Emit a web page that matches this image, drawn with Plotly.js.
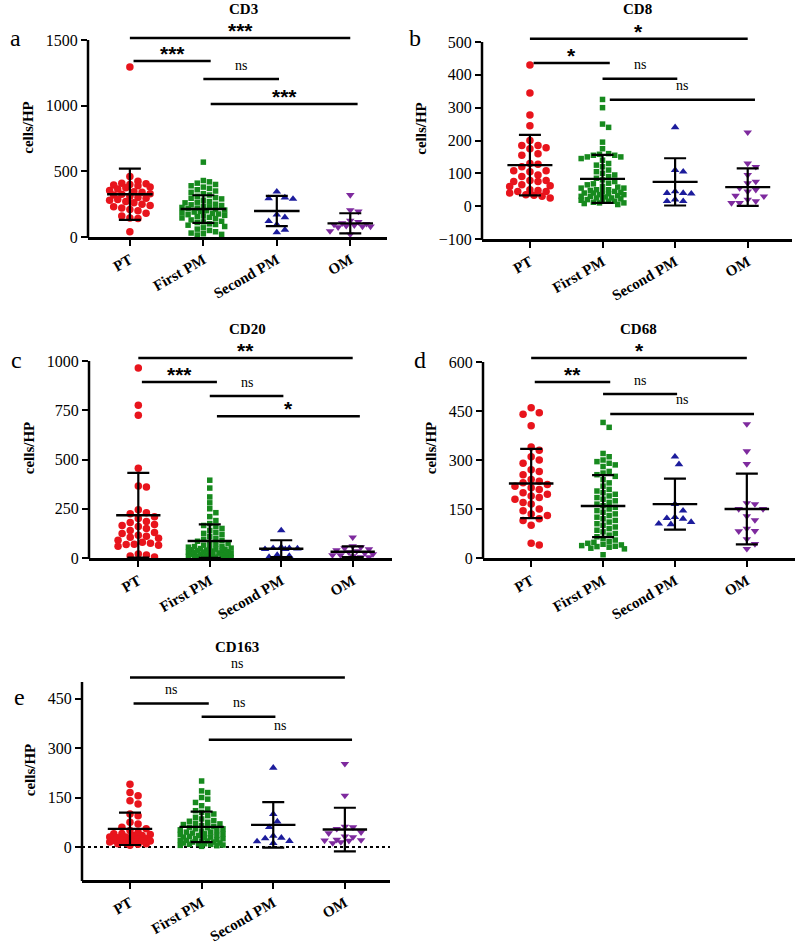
<!DOCTYPE html>
<html><head><meta charset="utf-8">
<script src="https://cdn.plot.ly/plotly-3.0.1.min.js"></script>
<style>html,body{margin:0;padding:0;background:#fff}</style>
</head><body><div id="chart" style="width:800px;height:949px"></div>
<script>
// ---------- categories ----------
const groups = ['PT', 'First PM', 'Second PM', 'OM'];

// ---------- CD3 ----------
const cd3PT = [1295, 460, 425, 410, 405, 400, 395, 390, 380, 375, 365, 355, 345, 340, 330, 325, 320, 310, 300, 295, 285, 280, 270, 260, 250, 240, 230, 220, 210, 200, 180, 160, 145, 140, 40];
const cd3First = [570, 430, 420, 410, 400, 390, 380, 370, 360, 350, 340, 330, 320, 310, 300, 295, 290, 280, 270, 265, 260, 250, 245, 240, 235, 230, 225, 220, 215, 210, 205, 200, 195, 190, 185, 180, 175, 170, 165, 160, 155, 150, 145, 140, 130, 120, 115, 110, 100, 95, 90, 80, 70, 60, 50, 40, 30, 25, 20, 15];
const cd3Second = [345, 300, 295, 290, 170, 150, 120, 95, 55, 35];
const cd3OM = [320, 205, 195, 125, 115, 105, 100, 95, 90, 85, 80, 80, 75, 45, 20];
const cd3Mean = [325, 213, 198, 104];
const cd3SD = [195, 105, 115, 77];
const cd3SigY = [1515, 1340, 1203, 1013];
const cd3SigLabel = ['***', '***', 'ns', '***'];

// ---------- CD8 ----------
const cd8PT = [430, 345, 278, 245, 200, 185, 185, 178, 175, 160, 155, 130, 128, 120, 108, 108, 105, 95, 90, 78, 78, 75, 75, 65, 62, 60, 50, 48, 45, 45, 40, 35, 33, 30, 25];
const cd8First = [325, 300, 250, 240, 195, 175, 160, 158, 155, 155, 150, 150, 145, 140, 130, 125, 120, 110, 105, 100, 95, 90, 85, 80, 75, 70, 68, 65, 60, 58, 55, 55, 50, 50, 48, 45, 45, 42, 40, 40, 38, 35, 35, 32, 30, 30, 28, 25, 25, 22, 20, 20, 18, 15, 15, 12, 10, 10, 8, 5];
const cd8Second = [240, 110, 105, 45, 40, 40, 38, 20, 15, 15];
const cd8OM = [225, 130, 120, 95, 75, 70, 55, 50, 45, 32, 30, 20, 15, 10, 10];
const cd8Mean = [125, 83, 74, 58];
const cd8SD = [92, 73, 72, 57];
const cd8SigY = [510, 436, 388, 324];
const cd8SigLabel = ['*', '*', 'ns', 'ns'];

// ---------- CD20 ----------
const cd20PT = [965, 775, 725, 455, 365, 360, 245, 230, 225, 210, 200, 185, 180, 170, 165, 160, 150, 140, 130, 125, 115, 110, 105, 100, 90, 80, 75, 70, 68, 65, 60, 20, 15, 10, 5];
const cd20First = [395, 355, 310, 280, 250, 230, 210, 190, 175, 165, 160, 150, 140, 130, 125, 120, 110, 100, 95, 90, 85, 80, 75, 70, 65, 60, 58, 55, 52, 50, 48, 45, 45, 42, 40, 38, 35, 35, 32, 30, 30, 28, 25, 25, 22, 20, 20, 18, 15, 15, 12, 10, 10, 8, 8, 5, 5, 3, 2, 1];
const cd20Second = [140, 55, 50, 50, 48, 45, 45, 15, 10, 5];
const cd20OM = [105, 60, 55, 50, 45, 40, 35, 30, 25, 20, 15, 15, 10, 5, 5];
const cd20Mean = [217, 86, 47, 32];
const cd20SD = [215, 85, 43, 27];
const cd20SigY = [1015, 893, 822, 720];
const cd20SigLabel = ['**', '***', 'ns', '*'];

// ---------- CD68 ----------
const cd68PT = [460, 445, 440, 405, 340, 330, 310, 300, 290, 270, 265, 255, 240, 235, 230, 225, 220, 215, 210, 200, 195, 190, 185, 180, 170, 165, 150, 145, 135, 130, 120, 115, 100, 45, 40];
const cd68First = [415, 400, 320, 310, 300, 295, 290, 285, 280, 265, 260, 255, 250, 240, 230, 220, 210, 205, 200, 195, 190, 185, 180, 175, 170, 165, 160, 155, 150, 145, 140, 135, 130, 125, 120, 115, 110, 105, 100, 95, 90, 85, 80, 75, 70, 65, 60, 55, 50, 48, 45, 42, 40, 38, 36, 35, 33, 30, 28, 10];
const cd68Second = [310, 287, 165, 145, 125, 122, 120, 110, 105, 103];
const cd68OM = [410, 327, 288, 168, 165, 150, 150, 128, 116, 90, 83, 82, 58, 43, 28];
const cd68Mean = [228, 159, 165, 150];
const cd68SD = [106, 95, 78, 108];
const cd68SigY = [612, 539, 502, 441];
const cd68SigLabel = ['*', '**', 'ns', 'ns'];

// ---------- CD163 ----------
const cd163PT = [190, 165, 155, 140, 130, 100, 95, 75, 70, 60, 55, 50, 45, 40, 40, 38, 35, 35, 30, 30, 28, 25, 25, 22, 20, 20, 18, 18, 15, 15, 12, 10, 10, 8, 5];
const cd163First = [200, 170, 165, 150, 145, 135, 125, 115, 110, 105, 100, 95, 90, 85, 80, 78, 75, 72, 70, 68, 65, 62, 60, 58, 55, 55, 52, 50, 48, 45, 45, 42, 40, 40, 38, 35, 35, 32, 30, 30, 28, 25, 25, 22, 20, 20, 18, 18, 15, 15, 12, 12, 10, 10, 8, 8, 6, 5, 4, 2];
const cd163Second = [240, 100, 77, 60, 34, 28, 26, 18, 17, 12];
const cd163OM = [252, 156, 62, 60, 55, 45, 42, 32, 30, 22, 21, 20, 19, 15, 12];
const cd163Mean = [55, 61, 67, 53];
const cd163SD = [49, 46, 69, 66];
const cd163SigY = [514, 435, 395, 325];
const cd163SigLabel = ['ns', 'ns', 'ns', 'ns'];

// comparison pairs (group indices)
const sigStart = [0, 0, 1, 1];
const sigEnd = [3, 1, 2, 3];

// ---------- styling / geometry ----------
const W = 800, H = 949;
const SERIF = 'Liberation Serif, Times New Roman, DejaVu Serif, serif';
const colors = ['#e8141c', '#178a1e', '#1c1c9c', '#7e2a9e'];
const symbols = ['circle', 'square', 'triangle-up', 'triangle-down'];
const sizes = [7.5, 5.5, 7.5, 7.5];
const sigStartOff = [0.0, 0.05, 0.0, 0.1];
const sigEndOff = [0.0, 0.1, 0.03, 0.1];
const MAXHALF = 24; // max half-width of a swarm, px

const panels = [
  {title: 'CD3', letter: 'a', data: [cd3PT, cd3First, cd3Second, cd3OM], mean: cd3Mean, sd: cd3SD, sigY: cd3SigY, sigLabel: cd3SigLabel,
   xL: 88, xR: 387, xr: [-0.57, 3.5], yMin: 0, yMax: 1500, ticks: [0, 500, 1000, 1500], pyMin: 237, pyMax: 40, pTop: 18,
   titlePos: [243, 8.5], letterPos: [8, 38]},
  {title: 'CD8', letter: 'b', data: [cd8PT, cd8First, cd8Second, cd8OM], mean: cd8Mean, sd: cd8SD, sigY: cd8SigY, sigLabel: cd8SigLabel,
   xL: 482, xR: 792, xr: [-0.66, 3.61], yMin: -100, yMax: 500, ticks: [-100, 0, 100, 200, 300, 400, 500], pyMin: 239, pyMax: 42, pTop: 18,
   titlePos: [637, 8.5], letterPos: [407, 38]},
  {title: 'CD20', letter: 'c', data: [cd20PT, cd20First, cd20Second, cd20OM], mean: cd20Mean, sd: cd20SD, sigY: cd20SigY, sigLabel: cd20SigLabel,
   xL: 89, xR: 392, xr: [-0.69, 3.55], yMin: 0, yMax: 1000, ticks: [0, 250, 500, 750, 1000], pyMin: 558, pyMax: 361, pTop: 338,
   titlePos: [247, 328.5], letterPos: [9, 360]},
  {title: 'CD68', letter: 'd', data: [cd68PT, cd68First, cd68Second, cd68OM], mean: cd68Mean, sd: cd68SD, sigY: cd68SigY, sigLabel: cd68SigLabel,
   xL: 483, xR: 795, xr: [-0.67, 3.67], yMin: 0, yMax: 600, ticks: [0, 150, 300, 450, 600], pyMin: 558, pyMax: 362, pTop: 338,
   titlePos: [638, 328.5], letterPos: [412, 360]},
  {title: 'CD163', letter: 'e', data: [cd163PT, cd163First, cd163Second, cd163OM], mean: cd163Mean, sd: cd163SD, sigY: cd163SigY, sigLabel: cd163SigLabel,
   xL: 82, xR: 390, xr: [-0.67, 3.63], yMin: -100, yMax: 500, ticks: [0, 150, 300, 450], pyMin: 880, pyMax: 682, pTop: 660,
   titlePos: [237, 647], letterPos: [12, 697], zeroLine: true}
];

// deterministic beeswarm offsets (pixels -> category units), limited width
function swarm(vals, kY, pxCat, d) {
  const idx = vals.map((v, i) => i).sort((a, b) => vals[b] - vals[a]);
  const placed = [];
  const off = new Array(vals.length).fill(0);
  const step = d / 2;
  const maxM = Math.floor(MAXHALF / step);
  for (const i of idx) {
    const py = vals[i] * kY;
    let best = 0, bestScore = -1;
    for (let n = 0; n <= 2 * maxM; n++) {
      const m = Math.ceil(n / 2) * (n % 2 === 1 ? 1 : -1);
      const ox = m * step;
      let minD = Infinity;
      for (const p of placed) {
        const dx = ox - p[0], dy = py - p[1];
        minD = Math.min(minD, dx * dx + dy * dy);
      }
      if (minD >= d * d * 0.92) { best = ox; break; }
      if (minD > bestScore) { bestScore = minD; best = ox; }
    }
    off[i] = best; placed.push([best, py]);
  }
  return off.map(o => o / pxCat);
}

const traces = [];
const layout = {
  width: W, height: H, margin: {l: 0, r: 0, t: 0, b: 0},
  paper_bgcolor: '#fff', plot_bgcolor: 'rgba(0,0,0,0)', showlegend: false,
  annotations: [], shapes: [],
  font: {family: SERIF, color: '#000'}
};

panels.forEach((p, pi) => {
  const n = pi === 0 ? '' : String(pi + 1);
  const xa = 'x' + n, ya = 'y' + n;
  const kY = (p.pyMin - p.pyMax) / (p.yMax - p.yMin);
  const pxCat = (p.xR - p.xL) / (p.xr[1] - p.xr[0]);
  const yTop = p.yMax + (p.pyMax - p.pTop) / kY;

  layout['xaxis' + n] = {
    domain: [p.xL / W, p.xR / W], range: p.xr, anchor: ya,
    showline: true, linewidth: 2.5, linecolor: '#000', showgrid: false, zeroline: false,
    tickmode: 'array', tickvals: [0, 1, 2, 3], ticktext: groups,
    ticks: 'outside', ticklen: 6, tickwidth: 2, tickcolor: '#000', tickangle: -30,
    tickfont: {family: SERIF, size: 15, weight: 'bold', color: '#000'}
  };
  layout['yaxis' + n] = {
    domain: [1 - p.pyMin / H, 1 - p.pTop / H], range: [p.yMin, yTop], anchor: xa,
    showline: false, showgrid: false, zeroline: false,
    tickmode: 'array', tickvals: p.ticks,
    ticks: 'outside', ticklen: 6, tickwidth: 2, tickcolor: '#000',
    tickfont: {family: SERIF, size: 16, color: '#000'},
    title: {text: 'cells/HP', font: {family: SERIF, size: 15, weight: 'bold', color: '#000'}, standoff: 8}
  };
  // y axis line from yMin to yMax
  layout.shapes.push({type: 'line', xref: 'paper', yref: 'paper',
    x0: p.xL / W, x1: p.xL / W, y0: 1 - (p.pyMin + 1) / H, y1: 1 - p.pyMax / H,
    line: {color: '#000', width: 2.5}});

  if (p.zeroLine) {
    traces.push({type: 'scatter', mode: 'lines', x: [p.xr[0], p.xr[1]], y: [0, 0], xaxis: xa, yaxis: ya,
      line: {color: '#000', width: 2, dash: 'dot'}, hoverinfo: 'skip'});
  }

  // points
  p.data.forEach((vals, g) => {
    const offs = swarm(vals, kY, pxCat, sizes[g] + 0.6);
    traces.push({
      type: 'scatter', mode: 'markers', name: groups[g], xaxis: xa, yaxis: ya,
      x: vals.map((v, i) => g + offs[i]), y: vals, cliponaxis: false,
      marker: {symbol: symbols[g], size: sizes[g], color: colors[g], line: {width: 0}}
    });
  });

  // mean +/- SD
  traces.push({
    type: 'scatter', mode: 'markers', xaxis: xa, yaxis: ya, x: [0, 1, 2, 3], y: p.mean, cliponaxis: false,
    marker: {size: 1, color: 'rgba(0,0,0,0)'},
    error_y: {type: 'data', array: p.sd, visible: true, width: 11, thickness: 2.2, color: '#000'},
    error_x: {type: 'constant', value: 0.31, visible: true, width: 0, thickness: 2.4, color: '#000'}
  });

  // significance bars
  p.sigY.forEach((yv, s) => {
    const x0 = sigStart[s] + sigStartOff[s], x1 = sigEnd[s] + sigEndOff[s];
    traces.push({type: 'scatter', mode: 'lines', xaxis: xa, yaxis: ya, x: [x0, x1], y: [yv, yv],
      line: {color: '#000', width: 2.5}, hoverinfo: 'skip'});
    const lab = p.sigLabel[s];
    const isStar = lab.indexOf('*') >= 0;
    layout.annotations.push({
      xref: xa, yref: ya, x: (x0 + x1) / 2, y: yv, text: lab, showarrow: false,
      yanchor: 'middle', yshift: isStar ? 7.5 : 14,
      font: isStar ? {family: 'Liberation Sans, Arial, sans-serif', size: 21, weight: 'bold', color: '#000'}
                   : {family: SERIF, size: 14, color: '#000'}
    });
  });

  // panel title and letter
  layout.annotations.push({xref: 'paper', yref: 'paper', x: p.titlePos[0] / W, y: 1 - p.titlePos[1] / H,
    text: p.title, showarrow: false, xanchor: 'center', yanchor: 'middle',
    font: {family: SERIF, size: 15, weight: 'bold', color: '#000'}});
  layout.annotations.push({xref: 'paper', yref: 'paper', x: p.letterPos[0] / W, y: 1 - p.letterPos[1] / H,
    text: p.letter, showarrow: false, xanchor: 'left', yanchor: 'middle',
    font: {family: SERIF, size: 24, color: '#000'}});
});

Plotly.newPlot('chart', traces, layout, {staticPlot: true, displayModeBar: false});
</script>
</body></html>
